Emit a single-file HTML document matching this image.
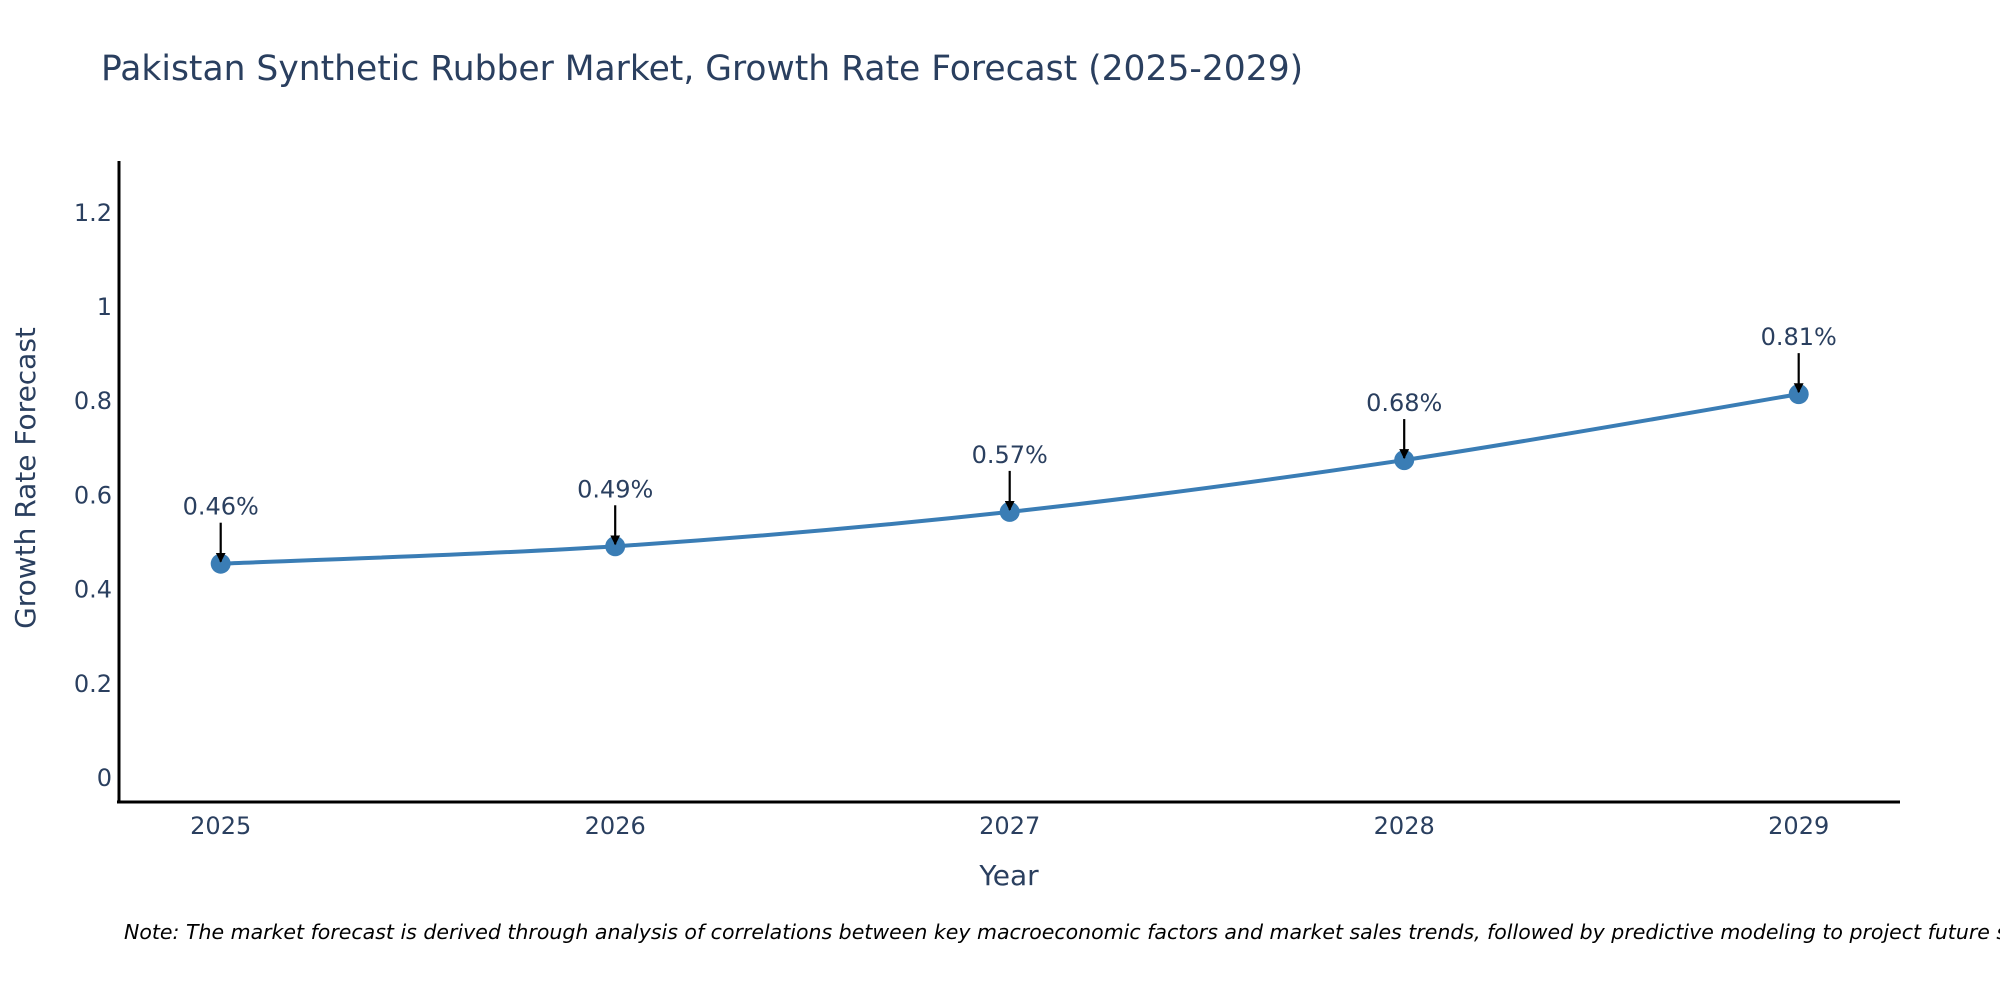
<!DOCTYPE html>
<html><head><meta charset="utf-8"><style>
html,body{margin:0;padding:0;background:#fff;width:2000px;height:1000px;overflow:hidden}
svg text{font-family:"DejaVu Sans","Liberation Sans",sans-serif;fill:#2a3f5f}
</style></head><body>
<svg id="chart" width="2000" height="1000" xmlns="http://www.w3.org/2000/svg">
<defs><marker id="ah" viewBox="0 0 10 10" refX="9" refY="5" markerWidth="4.5" markerHeight="4.5" orient="auto" markerUnits="strokeWidth"><path d="M0,0 L10,5 L0,10 z" fill="#000"/></marker></defs>
<text x="101" y="80" font-size="34.5">Pakistan Synthetic Rubber Market, Growth Rate Forecast (2025-2029)</text>
<g id="yticks"></g><g id="xticks"></g>
<line x1="119" y1="161" x2="119" y2="802" stroke="#000" stroke-width="3"/>
<line x1="117" y1="802" x2="1900" y2="802" stroke="#000" stroke-width="3"/>
<text x="1009" y="885" font-size="28" text-anchor="middle">Year</text>
<text transform="translate(35,478) rotate(-90)" font-size="28" text-anchor="middle">Growth Rate Forecast</text>
<g id="series"></g>
<text x="124" y="939" font-size="20.5" font-style="italic" style="fill:#000">Note: The market forecast is derived through analysis of correlations between key macroeconomic factors and market sales trends, followed by predictive modeling to project future sales.</text>
</svg>
<script>
const years = ["2025","2026","2027","2028","2029"];
const values = [0.455, 0.492, 0.565, 0.675, 0.815];
const valueLabels = ["0.46%","0.49%","0.57%","0.68%","0.81%"];
const yTicks = [0,0.2,0.4,0.6,0.8,1,1.2];
const yTickLabels = ["0","0.2","0.4","0.6","0.8","1","1.2"];

const NS="http://www.w3.org/2000/svg";
function xs(i){return 220.7 + i*394.5;}
function ys(v){return 778 - v*471;}
function mk(tag,attrs,parent){const e=document.createElementNS(NS,tag);for(const k in attrs)e.setAttribute(k,attrs[k]);parent.appendChild(e);return e;}

const yg=document.getElementById('yticks');
yTicks.forEach((t,i)=>{
  const e=mk('text',{x:112,y:ys(t)+8,'font-size':24,'text-anchor':'end'},yg);
  
  
  e.textContent=yTickLabels[i];
});
const xg=document.getElementById('xticks');
years.forEach((y,i)=>{
  const e=mk('text',{x:xs(i),y:834,'font-size':24,'text-anchor':'middle'},xg);
  
  
  e.textContent=y;
});

const sg=document.getElementById('series');
const pts=values.map((v,i)=>[xs(i),ys(v)]);
let d='M'+pts[0][0]+','+pts[0][1];
for(let i=0;i<pts.length-1;i++){
  const p0=pts[Math.max(0,i-1)],p1=pts[i],p2=pts[i+1],p3=pts[Math.min(pts.length-1,i+2)];
  const t=6;
  const c1=[p1[0]+(p2[0]-p0[0])/t,p1[1]+(p2[1]-p0[1])/t];
  const c2=[p2[0]-(p3[0]-p1[0])/t,p2[1]-(p3[1]-p1[1])/t];
  d+=' C'+c1+' '+c2+' '+p2;
}
const line=mk('path',{d:d,fill:'none',stroke:'#3a7db5','stroke-width':4},sg);


pts.forEach((p,i)=>{
  const c=mk('circle',{cx:p[0],cy:p[1],r:10,fill:'#3a7db5'},sg);
  
  
  const a=mk('line',{x1:p[0],y1:p[1]-41,x2:p[0],y2:p[1]-2,stroke:'#000','stroke-width':2.2,'marker-end':'url(#ah)'},sg);
  
  
  const tx=mk('text',{x:p[0],y:p[1]-49,'font-size':24,'text-anchor':'middle'},sg);
  
  
  tx.textContent=valueLabels[i];
});
</script>
</body></html>
